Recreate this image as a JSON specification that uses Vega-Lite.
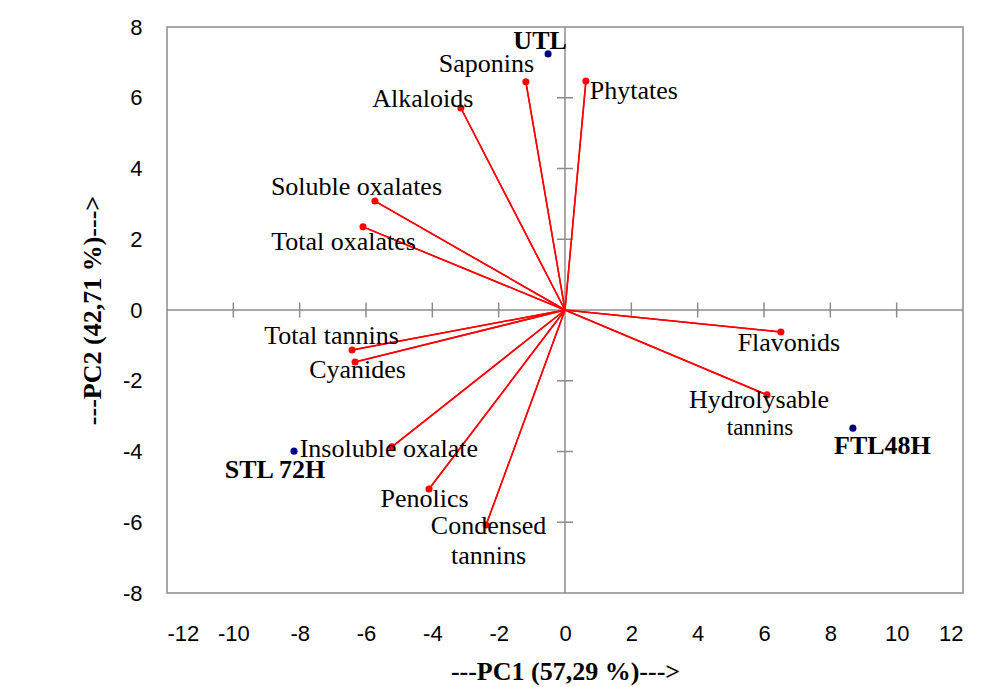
{
  "$schema": "https://vega.github.io/schema/vega-lite/v6.json",
  "width": 796,
  "height": 566,
  "autosize": "none",
  "padding": {"left": 167, "top": 27, "right": 37, "bottom": 94},
  "background": "white",
  "config": {
    "view": {"stroke": "#8c8c8c", "strokeWidth": 1.5},
    "axis": {
      "grid": false,
      "ticks": false,
      "domain": false,
      "labelFont": "Liberation Sans",
      "labelFontSize": 22,
      "labelColor": "#000000",
      "titleFont": "Liberation Serif",
      "titleFontSize": 26,
      "titleFontWeight": "bold",
      "titleColor": "#000000"
    },
    "text": {"font": "Liberation Serif", "fontSize": 26, "color": "#000000", "baseline": "alphabetic", "align": "center"}
  },
  "datasets": {
    "vars": [
      {"name": "Saponins", "x": -1.18, "y": 6.45},
      {"name": "Phytates", "x": 0.63, "y": 6.47},
      {"name": "Alkaloids", "x": -3.14, "y": 5.71},
      {"name": "Soluble oxalates", "x": -5.73, "y": 3.08},
      {"name": "Total oxalates", "x": -6.09, "y": 2.35},
      {"name": "Total tannins", "x": -6.42, "y": -1.13},
      {"name": "Cyanides", "x": -6.33, "y": -1.47},
      {"name": "Insoluble oxalate", "x": -5.22, "y": -3.87},
      {"name": "Penolics", "x": -4.10, "y": -5.06},
      {"name": "Condensed tannins", "x": -2.38, "y": -6.08},
      {"name": "Flavonids", "x": 6.51, "y": -0.62},
      {"name": "Hydrolysable tannins", "x": 6.09, "y": -2.40}
    ],
    "obs": [
      {"name": "UTL", "x": -0.51, "y": 7.24},
      {"name": "STL 72H", "x": -8.17, "y": -3.99},
      {"name": "FTL48H", "x": 8.68, "y": -3.34}
    ],
    "xticks": [
      {"v": -10}, {"v": -8}, {"v": -6}, {"v": -4}, {"v": -2},
      {"v": 2}, {"v": 4}, {"v": 6}, {"v": 8}, {"v": 10}
    ],
    "yticks": [
      {"v": -6}, {"v": -4}, {"v": -2}, {"v": 2}, {"v": 4}, {"v": 6}
    ],
    "origin": [{"v": 0}]
  },
  "layer": [
    {
      "data": {"name": "vars"},
      "mark": {"type": "rule", "color": "#ff0000", "strokeWidth": 1.5},
      "encoding": {
        "x": {
          "field": "x", "type": "quantitative",
          "scale": {"domain": [-12, 12], "nice": false, "zero": false},
          "axis": {
            "values": [-12, -10, -8, -6, -4, -2, 0, 2, 4, 6, 8, 10, 12],
            "labelExpr": "datum.value < 0 ? '-' + abs(datum.value) : '' + datum.value",
            "labelPadding": 30,
            "title": "---PC1 (57,29 %)--->",
            "titlePadding": 14
          }
        },
        "y": {
          "field": "y", "type": "quantitative",
          "scale": {"domain": [-8, 8], "nice": false, "zero": false},
          "axis": {
            "values": [-8, -6, -4, -2, 0, 2, 4, 6, 8],
            "labelExpr": "datum.value < 0 ? '-' + abs(datum.value) : '' + datum.value",
            "labelPadding": 25,
            "title": "---PC2 (42,71 %)--->",
            "titlePadding": 17
          }
        },
        "x2": {"datum": 0},
        "y2": {"datum": 0}
      }
    },
    {
      "data": {"name": "origin"},
      "mark": {"type": "rule", "color": "#8c8c8c", "strokeWidth": 1.5},
      "encoding": {"x": {"field": "v", "type": "quantitative"}}
    },
    {
      "data": {"name": "origin"},
      "mark": {"type": "rule", "color": "#8c8c8c", "strokeWidth": 1.5},
      "encoding": {"y": {"field": "v", "type": "quantitative"}}
    },
    {
      "data": {"name": "xticks"},
      "mark": {"type": "tick", "orient": "vertical", "color": "#8c8c8c", "size": 15, "thickness": 1.5, "opacity": 1},
      "encoding": {
        "x": {"field": "v", "type": "quantitative"},
        "y": {"datum": 0, "type": "quantitative"}
      }
    },
    {
      "data": {"name": "yticks"},
      "mark": {"type": "tick", "orient": "horizontal", "color": "#8c8c8c", "size": 16, "thickness": 1.5, "opacity": 1},
      "encoding": {
        "y": {"field": "v", "type": "quantitative"},
        "x": {"datum": 0, "type": "quantitative"}
      }
    },
    {
      "data": {"name": "vars"},
      "mark": {"type": "rule", "color": "#ff0000", "strokeWidth": 1.5},
      "encoding": {
        "x": {"field": "x", "type": "quantitative"},
        "y": {"field": "y", "type": "quantitative"},
        "x2": {"datum": 0},
        "y2": {"datum": 0}
      }
    },
    {
      "data": {"name": "vars"},
      "mark": {"type": "point", "filled": true, "color": "#ff0000", "size": 50, "opacity": 1},
      "encoding": {
        "x": {"field": "x", "type": "quantitative"},
        "y": {"field": "y", "type": "quantitative"}
      }
    },
    {
      "data": {"name": "obs"},
      "mark": {"type": "point", "filled": true, "color": "#000080", "size": 50, "opacity": 1},
      "encoding": {
        "x": {"field": "x", "type": "quantitative"},
        "y": {"field": "y", "type": "quantitative"}
      }
    },
    {
      "data": {"name": "obs"},
      "transform": [{"filter": "datum.name === 'UTL'"}],
      "mark": {"type": "text", "fontWeight": "bold", "dx": -8, "dy": -5},
      "encoding": {"x": {"field": "x", "type": "quantitative"}, "y": {"field": "y", "type": "quantitative"}, "text": {"field": "name"}}
    },
    {
      "data": {"name": "obs"},
      "transform": [{"filter": "datum.name === 'STL 72H'"}],
      "mark": {"type": "text", "fontWeight": "bold", "dx": -19, "dy": 27},
      "encoding": {"x": {"field": "x", "type": "quantitative"}, "y": {"field": "y", "type": "quantitative"}, "text": {"field": "name"}}
    },
    {
      "data": {"name": "obs"},
      "transform": [{"filter": "datum.name === 'FTL48H'"}],
      "mark": {"type": "text", "fontWeight": "bold", "dx": 29.5, "dy": 26},
      "encoding": {"x": {"field": "x", "type": "quantitative"}, "y": {"field": "y", "type": "quantitative"}, "text": {"field": "name"}}
    },
    {
      "data": {"name": "vars"},
      "transform": [{"filter": "datum.name === 'Saponins'"}],
      "mark": {"type": "text", "dx": -39.5, "dy": -10},
      "encoding": {"x": {"field": "x", "type": "quantitative"}, "y": {"field": "y", "type": "quantitative"}, "text": {"field": "name"}}
    },
    {
      "data": {"name": "vars"},
      "transform": [{"filter": "datum.name === 'Phytates'"}],
      "mark": {"type": "text", "dx": 48, "dy": 18},
      "encoding": {"x": {"field": "x", "type": "quantitative"}, "y": {"field": "y", "type": "quantitative"}, "text": {"field": "name"}}
    },
    {
      "data": {"name": "vars"},
      "transform": [{"filter": "datum.name === 'Alkaloids'"}],
      "mark": {"type": "text", "dx": -38, "dy": -1},
      "encoding": {"x": {"field": "x", "type": "quantitative"}, "y": {"field": "y", "type": "quantitative"}, "text": {"field": "name"}}
    },
    {
      "data": {"name": "vars"},
      "transform": [{"filter": "datum.name === 'Soluble oxalates'"}],
      "mark": {"type": "text", "dx": -18.5, "dy": -6},
      "encoding": {"x": {"field": "x", "type": "quantitative"}, "y": {"field": "y", "type": "quantitative"}, "text": {"field": "name"}}
    },
    {
      "data": {"name": "vars"},
      "transform": [{"filter": "datum.name === 'Total oxalates'"}],
      "mark": {"type": "text", "dx": -19.5, "dy": 23},
      "encoding": {"x": {"field": "x", "type": "quantitative"}, "y": {"field": "y", "type": "quantitative"}, "text": {"field": "name"}}
    },
    {
      "data": {"name": "vars"},
      "transform": [{"filter": "datum.name === 'Total tannins'"}],
      "mark": {"type": "text", "dx": -20.5, "dy": -6},
      "encoding": {"x": {"field": "x", "type": "quantitative"}, "y": {"field": "y", "type": "quantitative"}, "text": {"field": "name"}}
    },
    {
      "data": {"name": "vars"},
      "transform": [{"filter": "datum.name === 'Cyanides'"}],
      "mark": {"type": "text", "dx": 2.5, "dy": 16},
      "encoding": {"x": {"field": "x", "type": "quantitative"}, "y": {"field": "y", "type": "quantitative"}, "text": {"field": "name"}}
    },
    {
      "data": {"name": "vars"},
      "transform": [{"filter": "datum.name === 'Insoluble oxalate'"}],
      "mark": {"type": "text", "dx": -3, "dy": 10},
      "encoding": {"x": {"field": "x", "type": "quantitative"}, "y": {"field": "y", "type": "quantitative"}, "text": {"field": "name"}}
    },
    {
      "data": {"name": "vars"},
      "transform": [{"filter": "datum.name === 'Penolics'"}],
      "mark": {"type": "text", "dx": -4.5, "dy": 18},
      "encoding": {"x": {"field": "x", "type": "quantitative"}, "y": {"field": "y", "type": "quantitative"}, "text": {"field": "name"}}
    },
    {
      "data": {"name": "vars"},
      "transform": [{"filter": "datum.name === 'Condensed tannins'"}],
      "mark": {"type": "text", "dx": 2.5, "dy": 9, "lineBreak": " ", "lineHeight": 30},
      "encoding": {"x": {"field": "x", "type": "quantitative"}, "y": {"field": "y", "type": "quantitative"}, "text": {"field": "name"}}
    },
    {
      "data": {"name": "vars"},
      "transform": [{"filter": "datum.name === 'Flavonids'"}],
      "mark": {"type": "text", "dx": 8, "dy": 19},
      "encoding": {"x": {"field": "x", "type": "quantitative"}, "y": {"field": "y", "type": "quantitative"}, "text": {"field": "name"}}
    },
    {
      "data": {"name": "vars"},
      "transform": [{"filter": "datum.name === 'Hydrolysable tannins'"}],
      "mark": {"type": "text", "dx": -8, "dy": 13},
      "encoding": {"x": {"field": "x", "type": "quantitative"}, "y": {"field": "y", "type": "quantitative"}, "text": {"value": "Hydrolysable"}}
    },
    {
      "data": {"name": "vars"},
      "transform": [{"filter": "datum.name === 'Hydrolysable tannins'"}],
      "mark": {"type": "text", "fontSize": 23, "dx": -7, "dy": 40},
      "encoding": {"x": {"field": "x", "type": "quantitative"}, "y": {"field": "y", "type": "quantitative"}, "text": {"value": "tannins"}}
    }
  ]
}
